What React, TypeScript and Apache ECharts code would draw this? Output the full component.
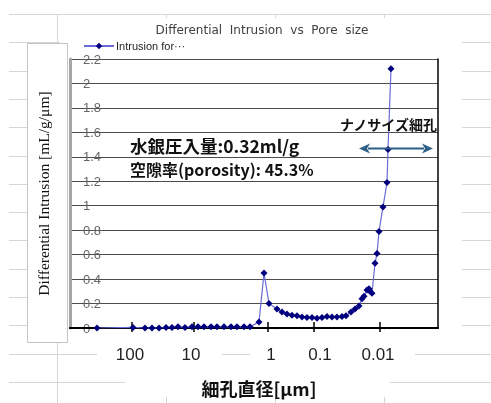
import React, { useEffect, useRef } from "react";
import * as echarts from "echarts";

// Horizontal position of each measurement along the (hand-scaled) pore-diameter axis
const porePos = [
  27, 63, 75, 82, 89, 96, 102, 108, 115, 122, 128, 134, 141, 147, 154, 161, 167, 174, 180,
  189, 194, 199, 207, 212, 217, 222, 227, 232, 237, 242, 247, 252, 257, 262, 267, 272, 276,
  281, 285, 289, 292, 294, 297, 299, 300, 302, 305, 307, 309, 313, 317, 318, 321,
];
// Differential intrusion [mL/g/µm]
const intrusion = [
  0.0, 0.005, 0.0, 0.0, 0.0, 0.005, 0.005, 0.01, 0.005, 0.01, 0.01, 0.01, 0.01, 0.01, 0.01,
  0.01, 0.01, 0.01, 0.01, 0.05, 0.45, 0.2, 0.155, 0.13, 0.115, 0.105, 0.1, 0.09, 0.085, 0.085,
  0.08, 0.085, 0.095, 0.09, 0.09, 0.095, 0.1, 0.13, 0.155, 0.18, 0.24, 0.26, 0.31, 0.32, 0.3,
  0.285, 0.53, 0.61, 0.79, 0.99, 1.19, 1.46, 2.12,
];
// Pore-diameter tick labels [µm] and where they sit on the axis
const tickLabels = ["100", "10", "1", "0.1", "0.01"];
const labelPos = [60, 121, 201, 250, 308];
const tickPos = [62, 124, 198, 244, 310];
const axisMax = 368;

const seriesName = "Intrusion for\u00b7\u00b7\u00b7";

export default function App() {
  const ref = useRef<HTMLDivElement>(null);
  useEffect(() => {
    if (!ref.current) return;
    const chart = echarts.init(ref.current, null, { renderer: "svg" });

    const sheet: any[] = [];
    for (let i = 0; i < 14; i++) {
      const y = Math.round(14 + 28.3 * i) + 0.5;
      sheet.push({ type: "line", z: -100, shape: { x1: 9, y1: y, x2: 491, y2: y }, style: { stroke: "#d6d6d6", lineWidth: 1 } });
    }
    [57, 166, 275, 384].forEach((x) =>
      sheet.push({ type: "line", z: -100, shape: { x1: x + 0.5, y1: 14, x2: x + 0.5, y2: 403 }, style: { stroke: "#d6d6d6", lineWidth: 1 } })
    );
    const covers = [
      { x: 60, y: 18, width: 402, height: 309 },
      { x: 60, y: 330, width: 402, height: 8 },
      { x: 97, y: 338, width: 125, height: 34 },
      { x: 250, y: 338, width: 165, height: 34 },
      { x: 125, y: 372, width: 265, height: 25 },
    ].map((s) => ({ type: "rect", z: -50, shape: s, style: { fill: "#fff" } }));

    const pairs = porePos.map((p, i) => [p, intrusion[i]]);
    const boldFont = '"Noto Sans CJK JP", sans-serif';

    chart.setOption({
      animation: false,
      title: {
        text: "Differential  Intrusion  vs  Pore  size",
        left: 262,
        top: 23,
        padding: 0,
        textAlign: "center",
        textStyle: { fontFamily: "DejaVu Sans", fontSize: 12, lineHeight: 14, fontWeight: "normal", color: "#404040" },
      },
      legend: {
        left: 83,
        top: 40,
        padding: 0,
        itemWidth: 30,
        itemHeight: 8,
        itemGap: 4,
        textStyle: { fontFamily: "Liberation Sans", fontSize: 11, lineHeight: 12, color: "#262626", padding: [0, 0, 0, -3] },
        data: [seriesName],
      },
      grid: { left: 70, top: 59, width: 368, height: 269, containLabel: false },
      xAxis: [
        {
          type: "value",
          min: 0,
          max: axisMax,
          position: "bottom",
          z: 5,
          axisLine: { show: true, onZero: false, lineStyle: { color: "#000", width: 2 } },
          axisTick: { show: true, customValues: tickPos, length: 4, inside: false, lineStyle: { color: "#000", width: 1.5 } },
          axisLabel: {
            customValues: labelPos,
            formatter: (v: number) => tickLabels[labelPos.indexOf(v)] ?? "",
            margin: 18,
            fontFamily: "Liberation Sans",
            fontSize: 17,
            color: "#1f1f1f",
          },
          splitLine: { show: false },
          name: "細孔直径[μm]",
          nameLocation: "middle",
          nameGap: 51,
          nameTextStyle: { fontFamily: boldFont, fontWeight: "bold", fontSize: 18, color: "#111", padding: [0, 0, 0, 10] },
        },
        {
          // companion axis at the top position, pulled down to value 0, so its outward ticks point up from the baseline
          type: "value",
          min: 0,
          max: axisMax,
          position: "top",
          z: 5,
          axisLine: { show: true, onZero: true, lineStyle: { color: "#000", width: 2 } },
          axisTick: { show: true, customValues: tickPos, length: 6, inside: false, lineStyle: { color: "#000", width: 1.5 } },
          axisLabel: { show: false },
          splitLine: { show: false },
        },
      ],
      yAxis: [
        {
          type: "value",
          min: 0,
          max: 2.2,
          interval: 0.2,
          position: "left",
          axisLine: { show: true, onZero: false, lineStyle: { color: "#a6a6a6", width: 3 } },
          axisTick: { show: false },
          axisLabel: {
            inside: true,
            margin: 13,
            fontFamily: "Liberation Sans",
            fontSize: 13,
            color: "#666",
            formatter: (v: number) => String(Math.round(v * 10) / 10),
          },
          splitLine: { show: true, lineStyle: { color: "#4d4d4d", width: 1.2 } },
          name: "Differential Intrusion [mL/g/μm]",
          nameLocation: "middle",
          nameGap: 19,
          nameTextStyle: { fontFamily: "Liberation Serif", fontSize: 15.5, color: "#111" },
        },
        {
          type: "value",
          min: 0,
          max: 2.2,
          position: "right",
          axisLine: { show: true, onZero: false, lineStyle: { color: "#000", width: 1.5 } },
          axisTick: { show: false },
          axisLabel: { show: false },
          splitLine: { show: false },
        },
      ],
      series: [
        {
          name: seriesName,
          type: "line",
          xAxisIndex: 0,
          yAxisIndex: 0,
          z: 6,
          data: pairs,
          symbol: "diamond",
          symbolSize: 7,
          itemStyle: { color: "#00007f" },
          lineStyle: { color: "#6b6bd6", width: 1.2 },
        },
      ],
      graphic: [
        ...sheet,
        ...covers,
        { type: "rect", z: -40, shape: { x: 27.5, y: 43.5, width: 40, height: 299 }, style: { fill: "#fff", stroke: "#c4c4c4", lineWidth: 1 } },
        {
          type: "text",
          z: 10,
          x: 130,
          y: 145,
          style: { text: "水銀圧入量:0.32ml/g", font: `bold 17.5px ${boldFont}`, fill: "#111", verticalAlign: "middle" },
        },
        {
          type: "text",
          z: 10,
          x: 130,
          y: 169,
          style: { text: "空隙率(porosity): 45.3%", font: `bold 16px ${boldFont}`, fill: "#111", verticalAlign: "middle" },
        },
        {
          type: "text",
          z: 10,
          x: 340,
          y: 124,
          style: { text: "ナノサイズ細孔", font: `bold 14px ${boldFont}`, fill: "#111", verticalAlign: "middle" },
        },
        { type: "line", z: 10, shape: { x1: 368, y1: 148.5, x2: 424, y2: 148.5 }, style: { stroke: "#2f5f86", lineWidth: 2 } },
        { type: "polygon", z: 10, shape: { points: [[359, 148.5], [370, 143.5], [367, 148.5], [370, 153.5]] }, style: { fill: "#2f5f86" } },
        { type: "polygon", z: 10, shape: { points: [[433, 148.5], [422, 143.5], [425, 148.5], [422, 153.5]] }, style: { fill: "#2f5f86" } },
      ],
    });
    return () => chart.dispose();
  }, []);
  return <div ref={ref} style={{ position: "fixed", left: 0, top: 0, width: 491, height: 403 }} />;
}
